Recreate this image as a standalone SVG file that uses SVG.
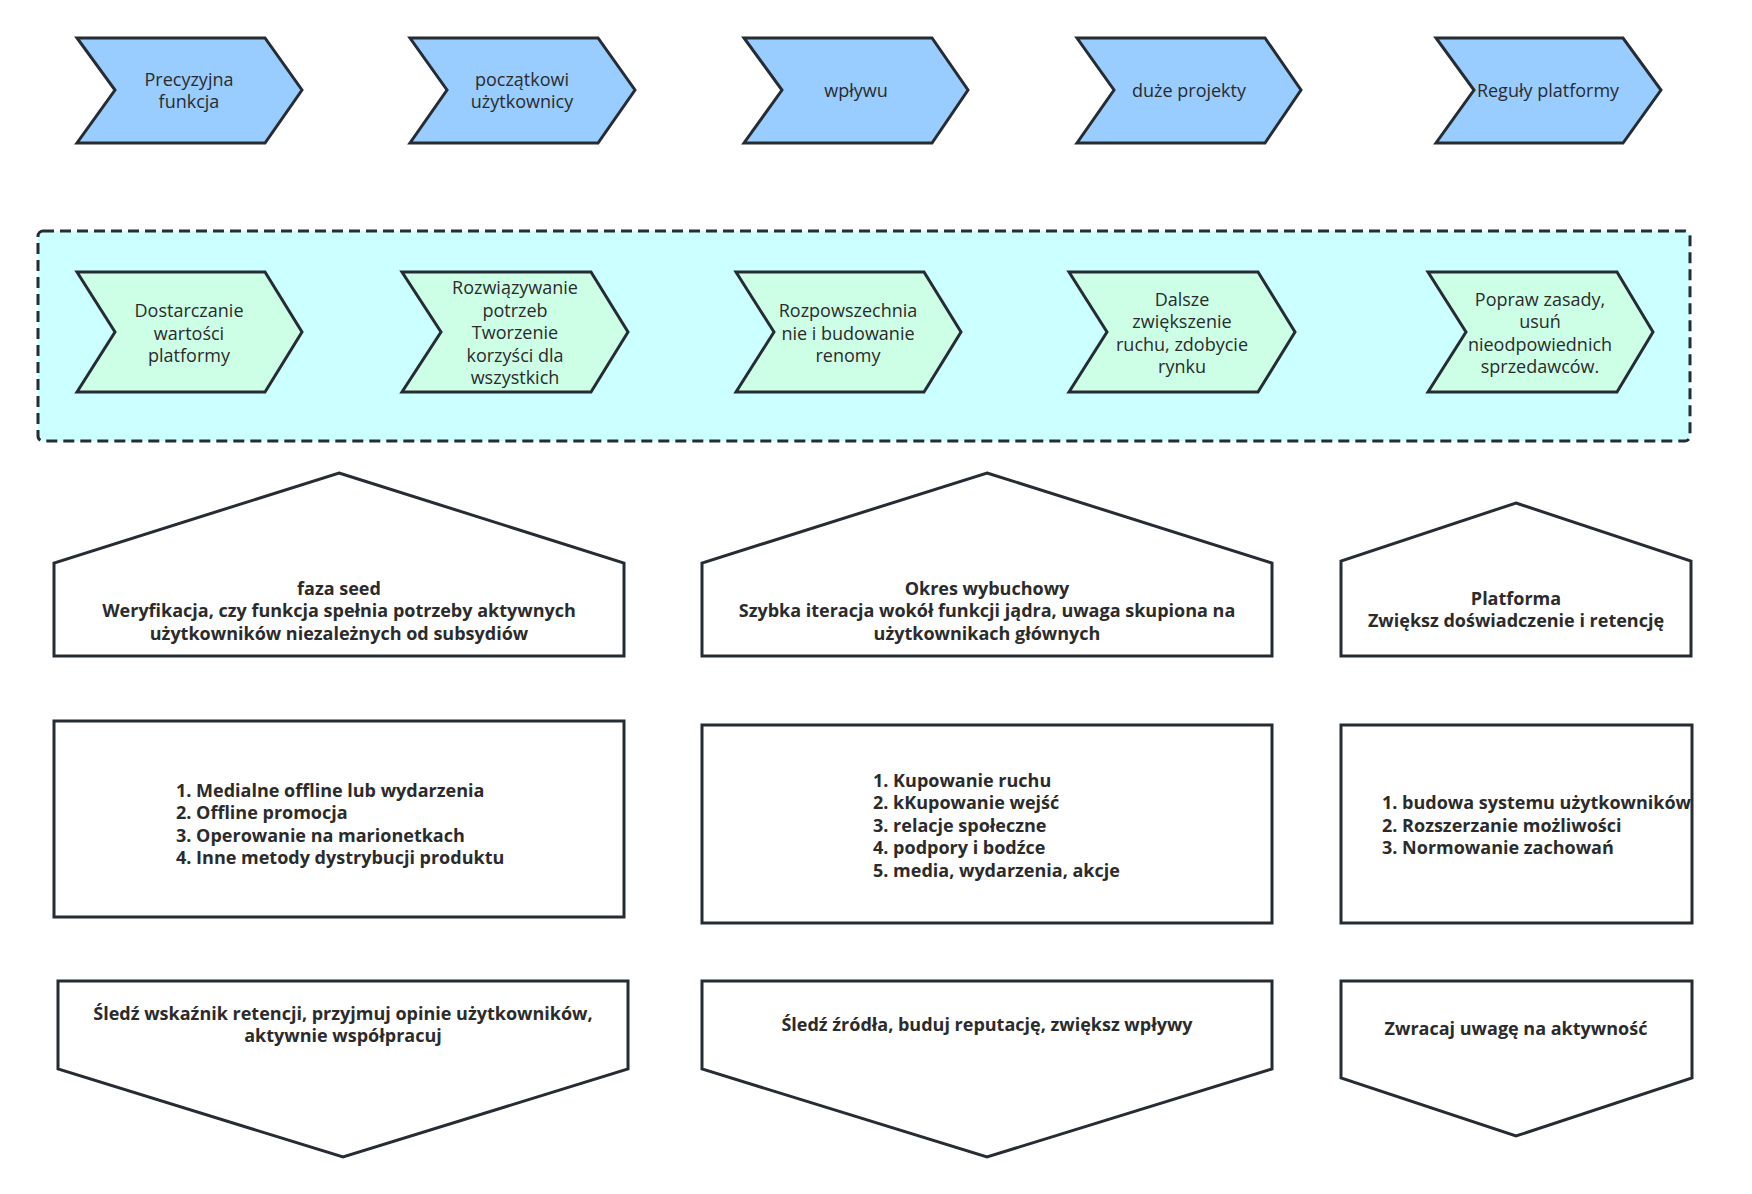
<svg xmlns="http://www.w3.org/2000/svg" width="1752" height="1194" viewBox="0 0 1752 1194">
<style>
.s{stroke:#262c33;stroke-width:3;stroke-linejoin:miter}
.blue{fill:#99ccff}
.green{fill:#ccffe6}
.white{fill:#ffffff}
.t{font-family:"Open Sans","Noto Sans","Liberation Sans",sans-serif;font-size:18px;fill:#2b2b2b;text-anchor:middle;dominant-baseline:central}
.b{font-family:"Open Sans","Noto Sans","Liberation Sans",sans-serif;font-size:18px;font-weight:bold;fill:#2b2b2b;dominant-baseline:central}
.c{text-anchor:middle}
</style>
<rect width="1752" height="1194" fill="#ffffff"/>
<g id="container">
<rect x="38" y="231" width="1652" height="210" rx="5" fill="#ccffff" stroke="#262c33" stroke-width="3" stroke-dasharray="11 6"/>
</g>
<g id="top1"><polygon class="s blue" points="77,38 265,38 302,90 265,143 77,143 115,90"/>
<text class="t"><tspan x="189" y="79">Precyzyjna</tspan><tspan x="189" y="101">funkcja</tspan></text></g>
<g id="top2"><polygon class="s blue" points="410,38 598,38 635,90 598,143 410,143 447,90"/>
<text class="t"><tspan x="522" y="79">początkowi</tspan><tspan x="522" y="101">użytkownicy</tspan></text></g>
<g id="top3"><polygon class="s blue" points="744,38 932,38 968,90 932,143 744,143 782,90"/>
<text class="t" x="856" y="90">wpływu</text></g>
<g id="top4"><polygon class="s blue" points="1077,38 1265,38 1301,90 1265,143 1077,143 1114,90"/>
<text class="t" x="1189" y="90">duże projekty</text></g>
<g id="top5"><polygon class="s blue" points="1436,38 1623,38 1661,90 1623,143 1436,143 1474,90"/>
<text class="t" x="1548" y="90">Reguły platformy</text></g>

<g id="mid1"><polygon class="s green" points="77,272 265,272 302,332 265,392 77,392 115,332"/>
<text class="t"><tspan x="189" y="310">Dostarczanie</tspan><tspan x="189" y="332.5">wartości</tspan><tspan x="189" y="355">platformy</tspan></text></g>
<g id="mid2"><polygon class="s green" points="402,272 591,272 628,332 591,392 402,392 441,332"/>
<text class="t"><tspan x="515" y="287">Rozwiązywanie</tspan><tspan x="515" y="309.5">potrzeb</tspan><tspan x="515" y="332">Tworzenie</tspan><tspan x="515" y="354.5">korzyści dla</tspan><tspan x="515" y="377">wszystkich</tspan></text></g>
<g id="mid3"><polygon class="s green" points="736,272 924,272 961,332 924,392 736,392 774,332"/>
<text class="t"><tspan x="848" y="310">Rozpowszechnia</tspan><tspan x="848" y="332.5">nie i budowanie</tspan><tspan x="848" y="355">renomy</tspan></text></g>
<g id="mid4"><polygon class="s green" points="1069,272 1258,272 1295,332 1258,392 1069,392 1107,332"/>
<text class="t"><tspan x="1182" y="299">Dalsze</tspan><tspan x="1182" y="321">zwiększenie</tspan><tspan x="1182" y="343.5">ruchu, zdobycie</tspan><tspan x="1182" y="366">rynku</tspan></text></g>
<g id="mid5"><polygon class="s green" points="1428,272 1617,272 1653,332 1617,392 1428,392 1466,332"/>
<text class="t"><tspan x="1540" y="299">Popraw zasady,</tspan><tspan x="1540" y="321">usuń</tspan><tspan x="1540" y="343.5">nieodpowiednich</tspan><tspan x="1540" y="366">sprzedawców.</tspan></text></g>

<g id="house1"><polygon class="s white" points="339,473 624,563 624,656 54,656 54,563"/>
<text class="b c"><tspan x="339" y="587.5">faza seed</tspan><tspan x="339" y="610">Weryfikacja, czy funkcja spełnia potrzeby aktywnych</tspan><tspan x="339" y="632.5">użytkowników niezależnych od subsydiów</tspan></text></g>
<g id="house2"><polygon class="s white" points="987,473 1272,563 1272,656 702,656 702,563"/>
<text class="b c"><tspan x="987" y="587.5">Okres wybuchowy</tspan><tspan x="987" y="610">Szybka iteracja wokół funkcji jądra, uwaga skupiona na</tspan><tspan x="987" y="632.5">użytkownikach głównych</tspan></text></g>
<g id="house3"><polygon class="s white" points="1516,503 1691,561 1691,656 1341,656 1341,561"/>
<text class="b c"><tspan x="1516" y="597.5">Platforma</tspan><tspan x="1516" y="620">Zwiększ doświadczenie i retencję</tspan></text></g>

<g id="list1"><rect class="s white" x="54" y="721" width="570" height="196"/>
<text class="b"><tspan x="176" y="789.5">1. Medialne offline lub wydarzenia</tspan><tspan x="176" y="812">2. Offline promocja</tspan><tspan x="176" y="834.5">3. Operowanie na marionetkach</tspan><tspan x="176" y="857">4. Inne metody dystrybucji produktu</tspan></text></g>
<g id="list2"><rect class="s white" x="702" y="725" width="570" height="198"/>
<text class="b"><tspan x="873" y="779.5">1. Kupowanie ruchu</tspan><tspan x="873" y="802">2. kKupowanie wejść</tspan><tspan x="873" y="824.5">3. relacje społeczne</tspan><tspan x="873" y="847">4. podpory i bodźce</tspan><tspan x="873" y="869.5">5. media, wydarzenia, akcje</tspan></text></g>
<g id="list3"><rect class="s white" x="1341" y="725" width="351" height="198"/>
<text class="b"><tspan x="1382" y="802">1. budowa systemu użytkowników</tspan><tspan x="1382" y="824.5">2. Rozszerzanie możliwości</tspan><tspan x="1382" y="847">3. Normowanie zachowań</tspan></text></g>

<g id="note1"><polygon class="s white" points="58,981 628,981 628,1069 343,1157 58,1069"/>
<text class="b c"><tspan x="343" y="1013">Śledź wskaźnik retencji, przyjmuj opinie użytkowników,</tspan><tspan x="343" y="1035">aktywnie współpracuj</tspan></text></g>
<g id="note2"><polygon class="s white" points="702,981 1272,981 1272,1069 987,1157 702,1069"/>
<text class="b c" x="987" y="1024">Śledź źródła, buduj reputację, zwiększ wpływy</text></g>
<g id="note3"><polygon class="s white" points="1341,981 1692,981 1692,1078 1516,1136 1341,1078"/>
<text class="b c" x="1516" y="1028">Zwracaj uwagę na aktywność</text></g>
<g id="connectors"></g>
</svg>
